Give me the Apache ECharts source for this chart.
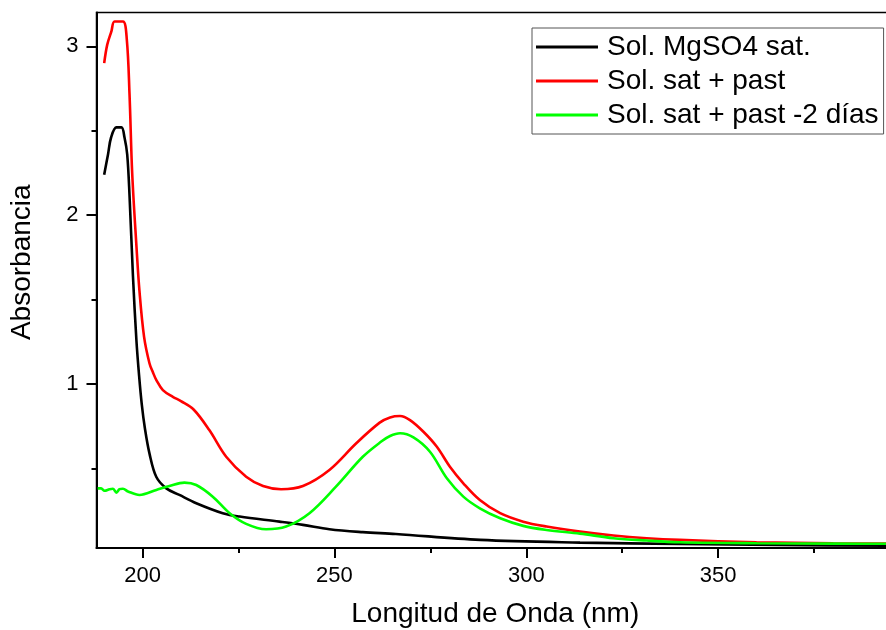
<!DOCTYPE html>
<html>
<head>
<meta charset="utf-8">
<script src="https://cdn.jsdelivr.net/npm/echarts@6/dist/echarts.min.js"></script>
<style>html,body{margin:0;padding:0;background:#fff}#c{width:886px;height:630px}</style>
</head>
<body>
<div id="c"></div>
<script>
var seriesNames = ['Sol. MgSO4 sat.', 'Sol. sat + past', 'Sol. sat + past -2 días'];
var xTickValues = [200, 250, 300, 350, 400];
var xMinorTickValues = [225, 275, 325, 375];
var yTickValues = [1, 2, 3];
var yMinorTickValues = [0.5, 1.5, 2.5];

var blackX = [190, 191, 191.8, 193.2, 194.5, 195.3, 196, 196.6, 197.5, 198.4, 199.1, 199.8, 200.6, 201.8, 203.6, 206.2, 209.6, 214, 220.9, 225.3, 235.7, 241.8, 248.7, 257.4, 266, 288, 314, 340, 365, 400];
var blackY = [2.24, 2.36, 2.46, 2.52, 2.52, 2.46, 2.36, 2.12, 1.64, 1.26, 1.05, 0.88, 0.74, 0.59, 0.45, 0.383, 0.344, 0.295, 0.236, 0.216, 0.186, 0.167, 0.141, 0.124, 0.113, 0.078, 0.062, 0.054, 0.048, 0.042];

var redX = [190, 190.8, 191.9, 192.7, 194.9, 195.9, 196.6, 197.3, 198.4, 199.2, 200.4, 201.8, 202.7, 203.6, 205.3, 207.9, 210, 213.3, 217.4, 221.8, 227, 231.4, 236.1, 241.8, 248.7, 255.7, 261.8, 264.5, 267.1, 269.7, 273.2, 276.7, 280.1, 283.6, 287.9, 293.2, 299.2, 305.3, 314, 322.7, 331.4, 340, 360, 380, 400];
var redY = [2.9, 3.01, 3.09, 3.147, 3.147, 3.04, 2.72, 2.25, 1.82, 1.55, 1.28, 1.124, 1.07, 1.024, 0.965, 0.925, 0.9, 0.85, 0.728, 0.57, 0.452, 0.397, 0.378, 0.397, 0.492, 0.65, 0.772, 0.803, 0.811, 0.787, 0.718, 0.629, 0.511, 0.413, 0.314, 0.236, 0.186, 0.157, 0.127, 0.104, 0.088, 0.078, 0.064, 0.058, 0.055];

var greenX = [188.3, 189.2, 190.1, 191.4, 192.3, 193.2, 194, 194.9, 196.2, 199.2, 203.6, 207, 210.9, 214, 218.3, 222.7, 227, 232.2, 237.4, 243.5, 250.4, 257.4, 262.2, 264.5, 267.1, 270.6, 274.9, 279.3, 283.6, 287.9, 293.2, 299.2, 305.3, 314, 322.7, 331.4, 340, 360, 380, 400];
var greenY = [0.383, 0.383, 0.369, 0.378, 0.381, 0.358, 0.378, 0.381, 0.365, 0.344, 0.374, 0.397, 0.417, 0.403, 0.334, 0.236, 0.173, 0.141, 0.157, 0.236, 0.393, 0.57, 0.66, 0.693, 0.709, 0.685, 0.6, 0.443, 0.334, 0.265, 0.206, 0.161, 0.137, 0.115, 0.088, 0.074, 0.064, 0.058, 0.056, 0.055];

function zip(xs, ys) { return xs.map(function (x, i) { return [x, ys[i]]; }); }

var FONT = '"Liberation Sans", Arial, sans-serif';
var chart = echarts.init(document.getElementById('c'));

function lineSeries(name, xs, ys, color) {
  return {
    name: name, type: 'line', data: zip(xs, ys), showSymbol: false, symbol: 'none',
    smooth: 0.35, xAxisIndex: 0, yAxisIndex: 0,
    lineStyle: { color: color, width: 2.6 }, itemStyle: { color: color },
    animation: false
  };
}

chart.setOption({
  animation: false,
  backgroundColor: '#fff',
  grid: { left: 96.5, top: 12.5, bottom: 82, right: -24, outerBoundsMode: 'none', containLabel: false, show: true, borderColor: '#000', borderWidth: 1.5, backgroundColor: 'transparent' },
  legend: {
    orient: 'vertical', left: 532, top: 28,
    padding: [5, 5, 5, 4],
    borderColor: '#555', borderWidth: 1,
    itemWidth: 62, itemHeight: 3, itemGap: 6, icon: 'rect',
    textStyle: { fontSize: 28, fontFamily: FONT, color: '#000', lineHeight: 28, padding: [0, 0, 0, 4] },
    data: seriesNames
  },
  xAxis: [{
    type: 'value', min: 188, max: 400, position: 'bottom',
    name: 'Longitud de Onda (nm)', nameLocation: 'middle', nameGap: 52,
    nameTextStyle: { fontSize: 28, fontFamily: FONT, color: '#000', padding: [0, 16, 0, 0] },
    axisLine: { show: true, onZero: false, lineStyle: { color: '#000', width: 2 } },
    axisTick: { show: true, inside: false, length: 10, customValues: xTickValues, lineStyle: { color: '#000', width: 2 } },
    axisLabel: { show: true, customValues: xTickValues, margin: 17, fontSize: 22, fontFamily: FONT, color: '#000' },
    splitLine: { show: false }
  }, {
    type: 'value', min: 188, max: 400, position: 'bottom',
    axisLine: { show: false, onZero: false },
    axisTick: { show: true, inside: false, length: 5, customValues: xMinorTickValues, lineStyle: { color: '#000', width: 2 } },
    axisLabel: { show: false },
    splitLine: { show: false }
  }],
  yAxis: [{
    type: 'value', min: 0.03, max: 3.2, position: 'left',
    name: 'Absorbancia', nameLocation: 'middle', nameGap: 60, nameRotate: 90,
    nameTextStyle: { fontSize: 28, fontFamily: FONT, color: '#000', padding: [0, 0, 0, 36] },
    axisLine: { show: true, onZero: false, lineStyle: { color: '#000', width: 2 } },
    axisTick: { show: true, inside: false, length: 10, customValues: yTickValues, lineStyle: { color: '#000', width: 2 } },
    axisLabel: { show: true, customValues: yTickValues, margin: 18, fontSize: 22, fontFamily: FONT, color: '#000' },
    splitLine: { show: false }
  }, {
    type: 'value', min: 0.03, max: 3.2, position: 'left', offset: 0,
    axisLine: { show: false, onZero: false },
    axisTick: { show: true, inside: false, length: 5, customValues: yMinorTickValues, lineStyle: { color: '#000', width: 2 } },
    axisLabel: { show: false },
    splitLine: { show: false }
  }],
  series: [
    lineSeries(seriesNames[0], blackX, blackY, '#000000'),
    lineSeries(seriesNames[1], redX, redY, '#ff0000'),
    lineSeries(seriesNames[2], greenX, greenY, '#00ff00')
  ]
});
</script>
</body>
</html>
